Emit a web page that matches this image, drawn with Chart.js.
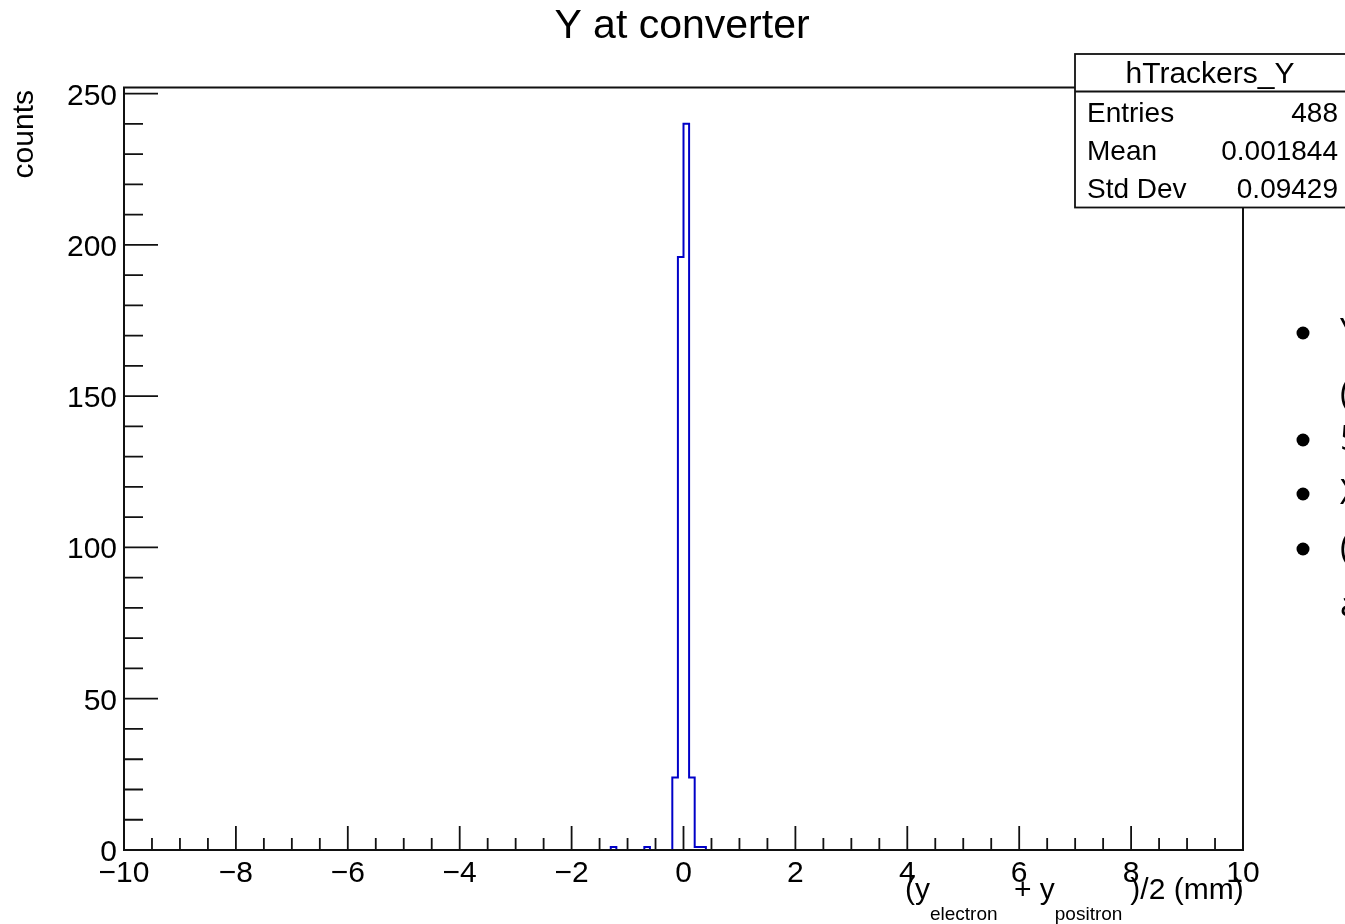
<!DOCTYPE html>
<html>
<head>
<meta charset="utf-8">
<script src="https://cdn.jsdelivr.net/npm/chart.js@4.4.1/dist/chart.umd.min.js"></script>
<style>
html,body{margin:0;padding:0;background:#fff;}
canvas{display:block;}
</style>
</head>
<body>
<canvas id="c" width="1345" height="924"></canvas>
<script>
// ---- data ----
const titleText = "Y at converter";
const yAxisTitle = "counts";
const binLowEdges = [-1.3, -0.7, -0.2, -0.1, 0.0, 0.1, 0.2, 0.3];
const binCounts   = [1, 1, 24, 196, 240, 24, 1, 1];
const binWidth = 0.1;
const xRange = [-10, 10];
const yMax = 252;
const xMajorTicks = [-10, -8, -6, -4, -2, 0, 2, 4, 6, 8, 10];
const xMinorTicks = [-9.5,-9,-8.5,-7.5,-7,-6.5,-5.5,-5,-4.5,-3.5,-3,-2.5,-1.5,-1,-0.5,0.5,1,1.5,2.5,3,3.5,4.5,5,5.5,6.5,7,7.5,8.5,9,9.5];
const yMajorTicks = [0, 50, 100, 150, 200, 250];
const yMinorTicks = [10,20,30,40,60,70,80,90,110,120,130,140,160,170,180,190,210,220,230,240];
const statsTitle = "hTrackers_Y";
const statsLabels = ["Entries", "Mean", "Std Dev"];
const statsValues = ["488", "0.001844", "0.09429"];
const xTitleParts = [["(y", false], ["electron", true], [" + y", false], ["positron", true], [")/2 (mm)", false]];
const sideTexts = ["Y", "(", "5", "X", "(", "a"];

// build histogram outline from bins
const pts = [{x: xRange[0], y: 0}];
let prevR = null;
for (let i = 0; i < binLowEdges.length; i++) {
  const l = binLowEdges[i];
  const r = Math.round((l + binWidth) * 1000) / 1000;
  const c = binCounts[i];
  if (prevR === null || Math.abs(l - prevR) > 1e-9) {
    if (prevR !== null) pts.push({x: prevR, y: 0});
    pts.push({x: l, y: 0});
  }
  pts.push({x: l, y: c});
  pts.push({x: r, y: c});
  prevR = r;
}
pts.push({x: prevR, y: 0});
pts.push({x: xRange[1], y: 0});

const FONT = '"Liberation Sans", Arial, Helvetica, sans-serif';

const rootPlugin = {
  id: 'rootStyle',
  beforeDraw(chart) {
    const ctx = chart.ctx;
    ctx.save();
    ctx.fillStyle = '#fff';
    ctx.fillRect(0, 0, chart.width, chart.height);
    ctx.restore();
  },
  afterDatasetsDraw(chart) {
    const ctx = chart.ctx;
    const xs = chart.scales.x, ys = chart.scales.y;
    const a = chart.chartArea;
    ctx.save();
    // frame
    ctx.strokeStyle = '#111';
    ctx.lineWidth = 2;
    ctx.strokeRect(a.left, a.top, a.right - a.left, a.bottom - a.top);
    // ticks
    ctx.lineWidth = 1.8;
    ctx.beginPath();
    xMajorTicks.forEach(v => { const p = xs.getPixelForValue(v); ctx.moveTo(p, a.bottom); ctx.lineTo(p, a.bottom - 24); });
    xMinorTicks.forEach(v => { const p = xs.getPixelForValue(v); ctx.moveTo(p, a.bottom); ctx.lineTo(p, a.bottom - 12); });
    yMajorTicks.forEach(v => { const p = ys.getPixelForValue(v); ctx.moveTo(a.left, p); ctx.lineTo(a.left + 34, p); });
    yMinorTicks.forEach(v => { const p = ys.getPixelForValue(v); ctx.moveTo(a.left, p); ctx.lineTo(a.left + 19, p); });
    ctx.stroke();
    // tick labels
    ctx.fillStyle = '#000';
    ctx.font = '30px ' + FONT;
    ctx.textAlign = 'center';
    ctx.textBaseline = 'alphabetic';
    xMajorTicks.forEach(v => {
      const s = (v < 0 ? '\u2212' + Math.abs(v) : String(v));
      ctx.fillText(s, xs.getPixelForValue(v), 882);
    });
    ctx.textAlign = 'right';
    yMajorTicks.forEach(v => {
      ctx.fillText(String(v), a.left - 7, ys.getPixelForValue(v) + 11);
    });
    // title
    ctx.textAlign = 'center';
    ctx.font = '41px ' + FONT;
    ctx.fillText(titleText, 682, 38);
    // y title
    ctx.save();
    ctx.translate(33, 90);
    ctx.rotate(-Math.PI / 2);
    ctx.textAlign = 'right';
    ctx.font = '30px ' + FONT;
    ctx.fillText(yAxisTitle, 0, 0);
    ctx.restore();
    // x title
    ctx.textAlign = 'left';
    let x = 905;
    xTitleParts.forEach(([t, sub]) => {
      ctx.font = (sub ? '19px ' : '30px ') + FONT;
      ctx.fillText(t, x, sub ? 920 : 899);
      x += ctx.measureText(t).width + (sub ? 8 : 0);
    });
    // stats box
    ctx.fillStyle = '#fff';
    ctx.fillRect(1075, 54, 280, 153.5);
    ctx.strokeStyle = '#111';
    ctx.lineWidth = 1.8;
    ctx.strokeRect(1075, 54, 280, 153.5);
    ctx.beginPath(); ctx.moveTo(1075, 91.5); ctx.lineTo(1345, 91.5); ctx.stroke();
    ctx.fillStyle = '#000';
    ctx.font = '30px ' + FONT;
    ctx.textAlign = 'center';
    ctx.fillText(statsTitle, 1210, 83);
    ctx.font = '28px ' + FONT;
    const rowY = [122, 160, 198];
    statsLabels.forEach((lab, i) => {
      ctx.textAlign = 'left';
      ctx.fillText(lab, 1087, rowY[i]);
      ctx.textAlign = 'right';
      ctx.fillText(statsValues[i], 1338, rowY[i]);
    });
    // side slide bullets
    const bulletY = [333, 440, 494, 549];
    bulletY.forEach(by => { ctx.beginPath(); ctx.arc(1303, by, 6.5, 0, Math.PI * 2); ctx.fill(); });
    const sideY = [333, 395, 440, 494, 549, 606];
    ctx.font = '34px "Open Sans", sans-serif';
    ctx.textAlign = 'left';
    ctx.textBaseline = 'middle';
    sideTexts.forEach((t, i) => ctx.fillText(t, 1340, sideY[i]));
    ctx.restore();
  }
};

new Chart(document.getElementById('c'), {
  type: 'scatter',
  data: {
    datasets: [{
      data: pts,
      showLine: true,
      borderColor: '#0000c8',
      borderWidth: 2,
      pointRadius: 0,
      tension: 0,
      fill: false
    }]
  },
  options: {
    responsive: false,
    devicePixelRatio: 1,
    animation: false,
    layout: { padding: { left: 124, right: 102, top: 87.5, bottom: 74 } },
    plugins: { legend: { display: false }, tooltip: { enabled: false }, title: { display: false } },
    scales: {
      x: { type: 'linear', min: xRange[0], max: xRange[1], display: false },
      y: { type: 'linear', min: 0, max: yMax, display: false }
    }
  },
  plugins: [rootPlugin]
});
</script>
</body>
</html>
